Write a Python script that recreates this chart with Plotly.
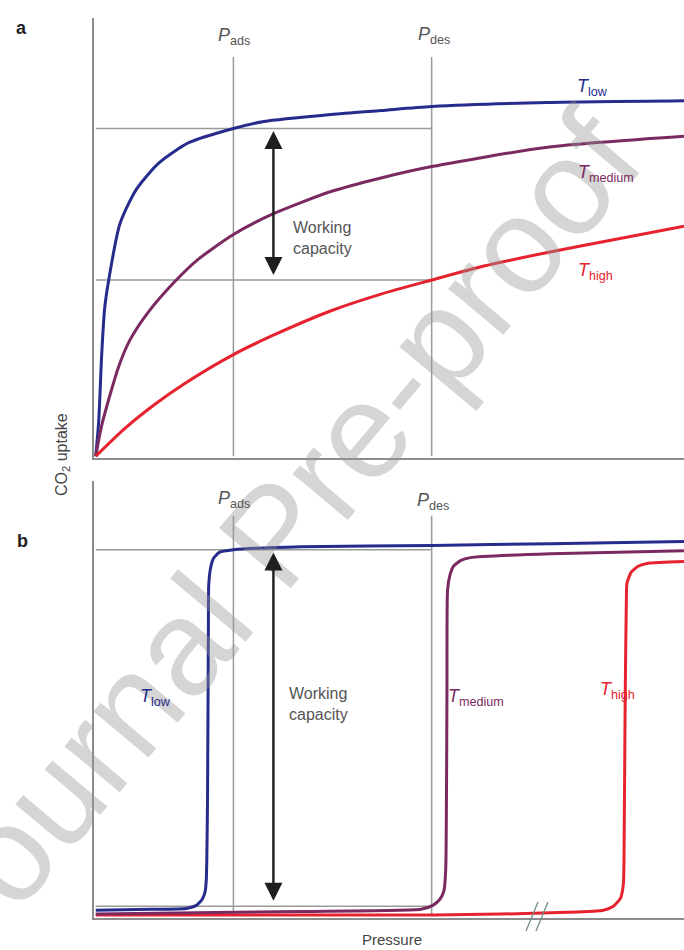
import plotly.graph_objects as go

# ---------------- data (pressure and CO2 uptake, arbitrary units 0-100) ----------------
# Panel a: Langmuir-type isotherms
P_A_LOW = [0, 0.5, 1.0, 1.5, 2.2, 4.1, 6.9, 10.8, 15.9, 23.4, 28.6, 40.0, 48.5, 57.1, 76.8, 100]
U_A_LOW = [0, 8.0, 23.0, 33.6, 40.2, 53.0, 60.9, 67.0, 71.6, 74.8, 76.4, 78.0, 78.9, 79.8, 80.7, 81.1]

P_A_MED = [0, 1.0, 3.9, 5.8, 9.0, 13.4, 17.1, 23.4, 30.3, 40.0, 48.5, 57.1, 76.8, 100]
U_A_MED = [0, 7.0, 20.5, 26.5, 33.0, 39.8, 44.6, 50.6, 55.4, 60.4, 63.5, 66.1, 70.5, 73.0]

P_A_HIGH = [0, 5, 10, 15, 23.4, 30, 40, 48.5, 57.1, 66, 76.8, 88, 100]
U_A_HIGH = [0, 6.4, 11.8, 16.5, 23.2, 27.5, 33.2, 37.0, 40.2, 43.4, 46.5, 49.4, 52.5]

# Panel b: step-shaped isotherms
P_B_LOW = [0, 9.5, 15.4, 17.1, 18.1, 18.6, 18.8, 19.0, 19.15, 19.2, 19.5, 20.0, 21.0, 23.4, 34.9, 57.1, 77.3, 100]
U_B_LOW = [1.4, 1.6, 1.8, 2.5, 3.9, 5.7, 8.7, 26.9, 68.0, 76.0, 79.9, 82.2, 83.6, 84.2, 84.9, 85.2, 85.6, 86.1]

P_B_MED = [0, 34.9, 55.3, 57.3, 58.5, 59.2, 59.5, 59.7, 59.8, 60.2, 60.8, 62.0, 63.7, 77.3, 100]
U_B_MED = [0.5, 1.1, 1.6, 2.5, 3.9, 5.9, 11.0, 49.8, 74.9, 78.3, 80.4, 81.7, 82.4, 83.3, 84.0]

P_B_HIGH = [0, 34.9, 57.5, 68.8, 80.2, 86.3, 88.0, 89.2, 89.7, 89.8, 90.0, 90.2, 90.3, 91.0, 92.2, 93.9, 100]
U_B_HIGH = [0.3, 0.3, 0.3, 0.5, 0.9, 1.4, 2.3, 4.1, 7.5, 13.2, 49.8, 72.6, 76.5, 79.0, 80.4, 81.1, 81.5]

# reference levels
P_ADS = 23.4
P_DES = 57.1
A_CAP_TOP, A_CAP_BOT = 74.8, 40.2
B_CAP_TOP, B_CAP_BOT = 84.2, 2.3
P_ARROW = 30.2
A_ARROW = (74.2, 41.0)
B_ARROW = (83.6, 3.2)
A_VLINE_TOP = 91.1
B_VLINE_TOP = 92.0

SERIES_LABELS = ["low", "medium", "high"]
COLORS = {"low": "#262b8c", "medium": "#7a2a60", "high": "#e5222e"}

# ---------------- figure ----------------
W, H = 684, 950
FONT = "Arial, Liberation Sans, Helvetica, sans-serif"
GRID = "#9a9a9a"

fig = go.Figure()

panel_a = [(P_A_LOW, U_A_LOW, "low"), (P_A_MED, U_A_MED, "medium"), (P_A_HIGH, U_A_HIGH, "high")]
panel_b = [(P_B_LOW, U_B_LOW, "low"), (P_B_MED, U_B_MED, "medium"), (P_B_HIGH, U_B_HIGH, "high")]

for xs, ys, name in panel_a:
    fig.add_trace(go.Scatter(x=xs, y=ys, mode="lines", xaxis="x", yaxis="y",
                             line=dict(color=COLORS[name], width=3, shape="spline", smoothing=0.7),
                             showlegend=False, hoverinfo="skip"))
for xs, ys, name in reversed(panel_b):
    fig.add_trace(go.Scatter(x=xs, y=ys, mode="lines", xaxis="x2", yaxis="y2",
                             line=dict(color=COLORS[name], width=3, shape="spline", smoothing=0.5),
                             showlegend=False, hoverinfo="skip"))

shapes = []
def hline(xref, yref, y, x1):
    shapes.append(dict(type="line", xref=xref, yref=yref, x0=0, x1=x1, y0=y, y1=y,
                       line=dict(color=GRID, width=1.5), layer="below"))
def vline(xref, yref, x, top):
    shapes.append(dict(type="line", xref=xref, yref=yref, x0=x, x1=x, y0=0, y1=top,
                       line=dict(color=GRID, width=1.5), layer="below"))

hline("x", "y", A_CAP_TOP, P_DES)
hline("x", "y", A_CAP_BOT, P_DES)
vline("x", "y", P_ADS, A_VLINE_TOP)
vline("x", "y", P_DES, A_VLINE_TOP)
hline("x2", "y2", B_CAP_TOP, P_DES)
hline("x2", "y2", B_CAP_BOT, P_DES)
vline("x2", "y2", P_ADS, B_VLINE_TOP)
vline("x2", "y2", P_DES, B_VLINE_TOP)

# axis break marks (decoration, paper coords)
for dx in (0, 10):
    shapes.append(dict(type="line", xref="paper", yref="paper",
                       x0=(526 + dx) / W, x1=(538 + dx) / W,
                       y0=1 - 931 / H, y1=1 - 902 / H,
                       line=dict(color="#6f8f80", width=1.3), layer="above"))

ann = []
def txt(text, px, py, size=15, color="#555555", xanchor="left", angle=0, align="left"):
    ann.append(dict(text=text, x=px / W, y=1 - py / H, xref="paper", yref="paper",
                    showarrow=False, xanchor=xanchor, yanchor="middle", textangle=angle,
                    align=align, font=dict(family=FONT, size=size, color=color)))

# watermark
ann.append(dict(text="Journal Pre-proof", x=274 / W, y=1 - 535 / H, xref="paper", yref="paper",
                showarrow=False, xanchor="center", yanchor="middle", textangle=-50,
                font=dict(family=FONT, size=136, color="rgba(150,150,150,0.40)")))

txt("<b>a</b>", 14, 28, size=18, color="#222222")
txt("<b>b</b>", 15, 541, size=18, color="#222222")

txt("<i>P</i><sub>ads</sub>", 216, 36, size=18)
txt("<i>P</i><sub>des</sub>", 416, 35, size=18)
txt("<i>P</i><sub>ads</sub>", 216, 499, size=18)
txt("<i>P</i><sub>des</sub>", 415, 501, size=18)

txt("<i>T</i><sub>%s</sub>" % SERIES_LABELS[0], 575, 88, size=18, color=COLORS["low"])
txt("<i>T</i><sub>%s</sub>" % SERIES_LABELS[1], 576, 173, size=18, color=COLORS["medium"])
txt("<i>T</i><sub>%s</sub>" % SERIES_LABELS[2], 576, 271, size=18, color=COLORS["high"])
txt("<i>T</i><sub>%s</sub>" % SERIES_LABELS[0], 138, 697, size=18, color=COLORS["low"])
txt("<i>T</i><sub>%s</sub>" % SERIES_LABELS[1], 446, 697, size=18, color=COLORS["medium"])
txt("<i>T</i><sub>%s</sub>" % SERIES_LABELS[2], 598, 690, size=18, color=COLORS["high"])

txt("Working<br>capacity", 291, 238, size=16)
txt("Working<br>capacity", 287, 704, size=16)

txt("CO<sub>2</sub> uptake", 63, 455, size=16, color="#444444", xanchor="center", angle=-90)
txt("Pressure", 392, 939, size=15, color="#444444", xanchor="center")

def arrow(xref, yref, x, ytop, ybot):
    ann.append(dict(text="", x=x, y=ytop, ax=x, ay=ybot, xref=xref, yref=yref,
                    axref=xref, ayref=yref, showarrow=True, arrowside="end+start",
                    arrowhead=2, startarrowhead=2, arrowsize=1.5, startarrowsize=1.5,
                    arrowwidth=2.4, arrowcolor="#1e1e1e", standoff=0, startstandoff=0))

arrow("x", "y", P_ARROW, A_ARROW[0], A_ARROW[1])
arrow("x2", "y2", P_ARROW, B_ARROW[0], B_ARROW[1])

x_dom = [94 / W, 1.0]
ax_common = dict(showline=True, linecolor="#8c8c8c", linewidth=1.5, showgrid=False,
                 zeroline=False, showticklabels=False, ticks="", fixedrange=True)

fig.update_layout(
    width=W, height=H,
    margin=dict(l=0, r=0, t=0, b=0),
    paper_bgcolor="white", plot_bgcolor="white",
    showlegend=False,
    xaxis=dict(domain=x_dom, range=[-0.3, 100], anchor="y", **ax_common),
    yaxis=dict(domain=[1 - 458 / H, 1 - 18 / H], range=[-0.4, 100], anchor="x", **ax_common),
    xaxis2=dict(domain=x_dom, range=[-0.3, 100], anchor="y2", **ax_common),
    yaxis2=dict(domain=[1 - 918 / H, 1 - 481 / H], range=[-0.4, 100], anchor="x2", **ax_common),
    shapes=shapes,
    annotations=ann,
)

fig.write_html("out.html", config={"displayModeBar": False},
               post_script="document.body.style.margin='0';document.body.style.overflow='hidden';")
